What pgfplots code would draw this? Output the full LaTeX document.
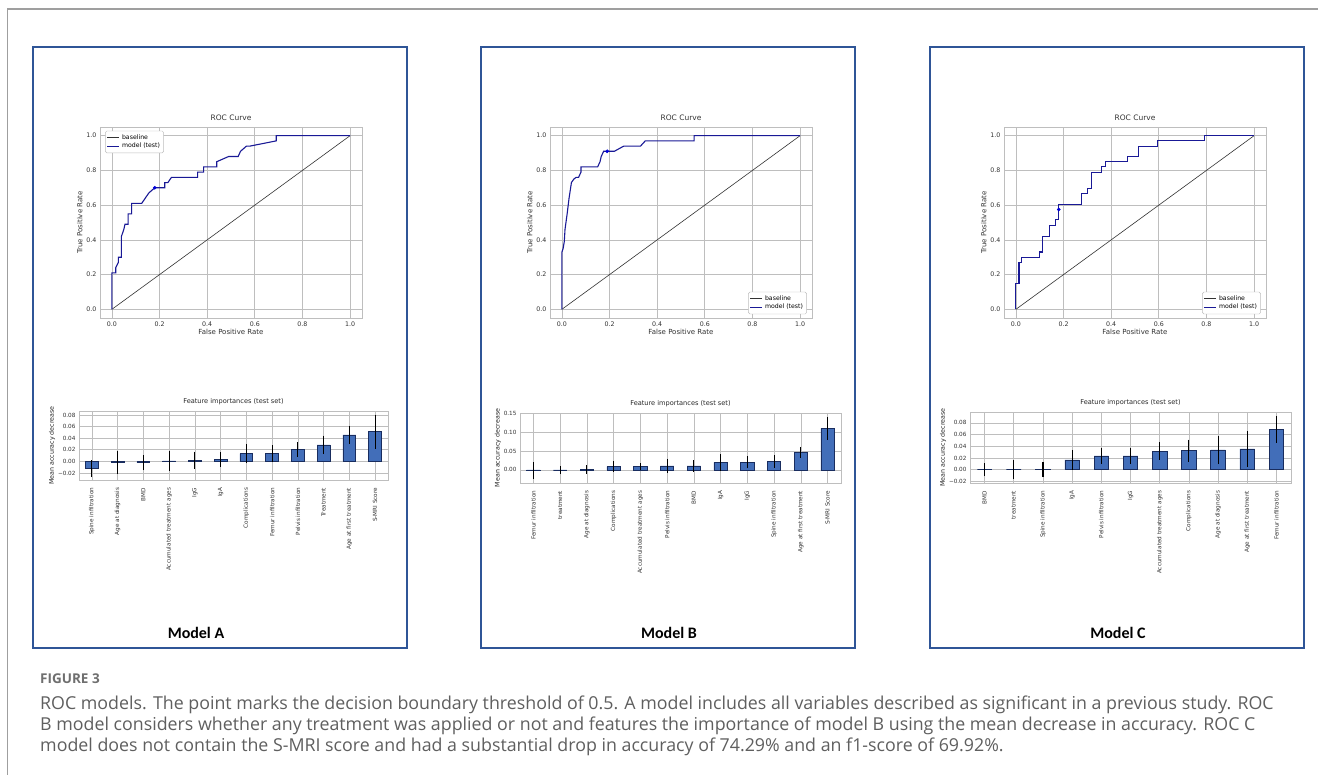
\documentclass[border=0pt]{standalone}
\usepackage{pgfplots}
\usepackage{pgfplotstable}
\pgfplotsset{compat=1.18}
\usepackage{fontspec}
\setmainfont{Open Sans}
\newfontfamily\djv{DejaVu Sans}
\newfontfamily\carl{Carlito}
\definecolor{frameblue}{RGB}{47,85,151}
\definecolor{barblue}{RGB}{66,110,185}
\definecolor{baredge}{RGB}{25,45,95}
\definecolor{rocblue}{RGB}{25,25,150}
\definecolor{capgray}{RGB}{95,95,95}
\definecolor{gridgray}{RGB}{190,190,190}

\pgfplotstableread{
x v e
0 -0.0125 0.0145
1 -0.002 0.020
2 -0.002 0.013
3 0.001 0.017
4 0.002 0.015
5 0.003 0.013
6 0.0134 0.0167
7 0.0134 0.0146
8 0.0204 0.0123
9 0.0286 0.0158
10 0.0456 0.0158
11 0.0514 0.0295
}\barA
\pgfplotstableread{
x v e
0 -0.002 0.023
1 0.000 0.011
2 0.001 0.011
3 0.0087 0.015
4 0.0087 0.009
5 0.0105 0.019
6 0.0105 0.015
7 0.020 0.022
8 0.020 0.016
9 0.0227 0.0166
10 0.047 0.0144
11 0.111 0.030
}\barB
\pgfplotstableread{
x v e
0 0.000 0.011
1 0.000 0.016
2 0.0005 0.0124
3 0.0169 0.017
4 0.0237 0.014
5 0.0237 0.014
6 0.032 0.015
7 0.0327 0.0186
8 0.0338 0.024
9 0.0355 0.031
10 0.0687 0.0225
}\barC

\pgfplotsset{
  rocstyle/.style={
    scale only axis, width=262pt, height=191pt,
    xmin=-0.05, xmax=1.05, ymin=-0.05, ymax=1.05,
    xtick={0,0.2,0.4,0.6,0.8,1}, ytick={0,0.2,0.4,0.6,0.8,1},
    xticklabels={0.0,0.2,0.4,0.6,0.8,1.0},
    yticklabels={0.0,0.2,0.4,0.6,0.8,1.0},
    grid=major, grid style={gridgray, line width=0.7pt},
    axis line style={gridgray, line width=0.7pt},
    tick style={draw=none},
    tick label style={font=\djv\fontsize{6.3}{7}\selectfont, text=black!80},
    label style={font=\djv\fontsize{7}{8}\selectfont, text=black!80},
    title style={font=\djv\fontsize{7.5}{8}\selectfont, text=black!80, yshift=-3pt},
    title={ROC Curve},
    xlabel={False Positive Rate}, ylabel={True Positive Rate},
    xlabel style={yshift=4pt}, ylabel style={yshift=-3pt},
    legend style={font=\djv\fontsize{6.2}{7}\selectfont, draw=gridgray, rounded corners=1.5pt, inner sep=1.5pt, row sep=-1.5pt, fill=white},
    legend cell align=left,
    legend image code/.code={\draw[#1] (0pt,0pt) -- (12pt,0pt);},
  },
  barstyle/.style={
    scale only axis,
    ybar, bar width=0.5,
    xtick={0,...,11},
    scaled y ticks=false,
    grid=major, grid style={gridgray, line width=0.7pt},
    axis line style={gridgray, line width=0.7pt},
    tick style={draw=none},
    tick label style={font=\djv\fontsize{5.7}{6}\selectfont, text=black!80},
    xticklabel style={rotate=90, anchor=east},
    ylabel={Mean accuracy decrease},
    label style={font=\djv\fontsize{6.3}{7}\selectfont, text=black!85},
    ylabel style={yshift=-4pt},
    title style={font=\djv\fontsize{6.6}{7}\selectfont, text=black!85, yshift=-3pt},
    title={Feature importances (test set)},
  },
  barplot/.style={fill=barblue, draw=baredge, line width=0.7pt,
    error bars/.cd, y dir=both, y explicit, error mark=none,
    error bar style={black, line width=1.1pt, solid}},
}

\begin{document}
\begin{tikzpicture}[x=1pt,y=1pt]
\useasboundingbox (0,0) rectangle (1318,775);
\fill[white] (0,0) rectangle (1318,775);
% outer frame
\draw[gray!75, line width=1.6pt] (7.5,0) -- (7.5,766) -- (1318,766);
% panel frames
\draw[frameblue, line width=2pt] (33,728) rectangle (407,127);
\draw[frameblue, line width=2pt] (481,728) rectangle (855,127);
\draw[frameblue, line width=2pt] (930,728) rectangle (1304,127);

% ROC A
\begin{axis}[rocstyle, at={(100pt,457pt)}, anchor=south west,
  legend style={at={(0.02,0.98)}, anchor=north west}]
\addplot[black!80, line width=0.6pt] coordinates {(0,0) (1,1)};
\addlegendentry{baseline}
\addplot[rocblue, line width=1.1pt] coordinates {
(0,0) (0,0.21) (0.016,0.21) (0.016,0.24) (0.027,0.27) (0.027,0.30) (0.04,0.30)
(0.04,0.42) (0.05,0.46) (0.055,0.49) (0.068,0.49) (0.068,0.55) (0.083,0.55)
(0.083,0.61) (0.125,0.61) (0.14,0.64) (0.155,0.67) (0.18,0.70) (0.222,0.70)
(0.222,0.73) (0.235,0.73) (0.25,0.76) (0.36,0.76) (0.36,0.79) (0.385,0.79)
(0.385,0.82) (0.44,0.82) (0.44,0.85) (0.49,0.88) (0.53,0.88) (0.54,0.91)
(0.565,0.94) (0.58,0.94) (0.69,0.97) (0.69,1.0) (1,1)};
\addlegendentry{model (test)}
\addplot[only marks, mark=*, mark size=1.6pt, color=blue!85!black, forget plot] coordinates {(0.18,0.70)};
\end{axis}

% ROC B
\begin{axis}[rocstyle, at={(550pt,457pt)}, anchor=south west,
  legend style={at={(0.98,0.02)}, anchor=south east}]
\addplot[black!80, line width=0.6pt] coordinates {(0,0) (1,1)};
\addlegendentry{baseline}
\addplot[rocblue, line width=1.1pt] coordinates {
(0,0) (0,0.33) (0.005,0.35) (0.01,0.39) (0.013,0.46) (0.022,0.55) (0.03,0.64)
(0.04,0.73) (0.05,0.75) (0.06,0.76) (0.07,0.76) (0.08,0.79) (0.08,0.82)
(0.15,0.82) (0.16,0.85) (0.165,0.88) (0.175,0.91) (0.22,0.91) (0.26,0.94)
(0.33,0.94) (0.35,0.97) (0.555,0.97) (0.555,1.0) (1,1)};
\addlegendentry{model (test)}
\addplot[only marks, mark=*, mark size=1.6pt, color=blue!85!black, forget plot] coordinates {(0.19,0.91)};
\end{axis}

% ROC C
\begin{axis}[rocstyle, at={(1004pt,457pt)}, anchor=south west,
  legend style={at={(0.98,0.02)}, anchor=south east}]
\addplot[black!80, line width=0.6pt] coordinates {(0,0) (1,1)};
\addlegendentry{baseline}
\addplot[rocblue, line width=1.1pt] coordinates {
(0,0) (0,0.15) (0.013,0.15) (0.013,0.27) (0.025,0.27) (0.025,0.30) (0.098,0.30)
(0.098,0.33) (0.11,0.33) (0.11,0.42) (0.14,0.42) (0.14,0.485) (0.165,0.485)
(0.165,0.515) (0.18,0.515) (0.18,0.606) (0.275,0.606) (0.275,0.667) (0.30,0.667)
(0.30,0.697) (0.317,0.697) (0.317,0.79) (0.36,0.79) (0.36,0.82) (0.375,0.82)
(0.375,0.85) (0.47,0.85) (0.47,0.88) (0.515,0.88) (0.515,0.94) (0.595,0.94)
(0.595,0.97) (0.79,0.97) (0.79,1.0) (1,1)};
\addlegendentry{model (test)}
\addplot[only marks, mark=*, mark size=1.6pt, color=blue!85!black, forget plot] coordinates {(0.18,0.575)};
\end{axis}

% Bars A
\begin{axis}[barstyle, at={(79pt,295pt)}, anchor=south west, width=309pt, height=69pt,
  xmin=-0.5, xmax=11.5, ymin=-0.032, ymax=0.087,
  ytick={-0.02,0,0.02,0.04,0.06,0.08},
  yticklabels={−0.02,0.00,0.02,0.04,0.06,0.08},
  xticklabels={Spine infiltration,Age at diagnosis,BMD,Accumulated treatment ages,IgG,IgA,Complications,Femur infiltration,Pelvis infiltration,Treatment,Age at first treatment,S-MRI Score}]
\addplot[barplot] table[x=x, y=v, y error=e] {\barA};
\end{axis}

% Bars B
\begin{axis}[barstyle, at={(520pt,292pt)}, anchor=south west, width=321pt, height=70pt,
  xmin=-0.5, xmax=11.5, ymin=-0.035, ymax=0.152,
  ytick={0,0.05,0.10,0.15},
  yticklabels={0.00,0.05,0.10,0.15},
  xticklabels={Femur infiltration,treatment,Age at diagnosis,Complications,Accumulated treatment ages,Pelvis infiltration,BMD,IgA,IgG,Spine infiltration,Age at first treatment,S-MRI Score}]
\addplot[barplot] table[x=x, y=v, y error=e] {\barB};
\end{axis}

% Bars C
\begin{axis}[barstyle, at={(970pt,292pt)}, anchor=south west, width=321pt, height=71pt,
  xmin=-0.5, xmax=10.5, ymin=-0.0225, ymax=0.0986, xtick={0,...,10},
  ytick={-0.02,0,0.02,0.04,0.06,0.08},
  yticklabels={−0.02,0.00,0.02,0.04,0.06,0.08},
  xticklabels={BMD,treatment,Spine infiltration,IgA,Pelvis infiltration,IgG,Accumulated treatment ages,Complications,Age at diagnosis,Age at first treatment,Femur infiltration}]
\addplot[barplot] table[x=x, y=v, y error=e] {\barC};
\end{axis}

% model labels
\node[font=\carl\bfseries\fontsize{16}{18}\selectfont] at (196,142) {Model A};
\node[font=\carl\bfseries\fontsize{16}{18}\selectfont] at (669,142) {Model B};
\node[font=\carl\bfseries\fontsize{16}{18}\selectfont] at (1118,142) {Model C};

% caption
\node[anchor=base west, inner sep=0pt, text=capgray!90, font=\bfseries\fontsize{13.5}{15}\selectfont] at (40,91) {FIGURE 3};
\node[anchor=base west, inner sep=0pt, text=capgray, font=\fontsize{17.8}{20}\selectfont] at (40,65) {ROC models. The point marks the decision boundary threshold of 0.5. A model includes all variables described as significant in a previous study. ROC};
\node[anchor=base west, inner sep=0pt, text=capgray, font=\fontsize{17.8}{20}\selectfont] at (40,44) {B model considers whether any treatment was applied or not and features the importance of model B using the mean decrease in accuracy. ROC C};
\node[anchor=base west, inner sep=0pt, text=capgray, font=\fontsize{17.8}{20}\selectfont] at (40,23) {model does not contain the S-MRI score and had a substantial drop in accuracy of 74.29\% and an f1-score of 69.92\%.};
\end{tikzpicture}
\end{document}
